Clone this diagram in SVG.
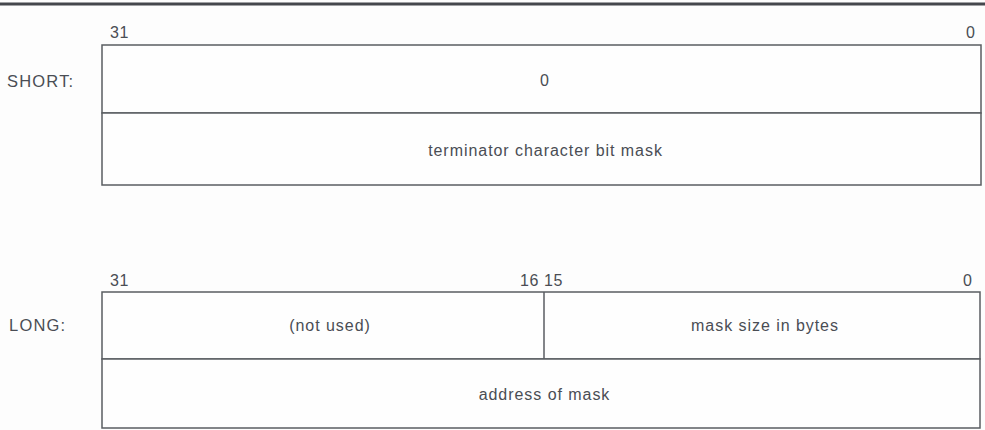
<svg xmlns="http://www.w3.org/2000/svg" width="985" height="430" viewBox="0 0 985 430">
<style>
  .bg { fill: #fdfdfd; }
  .rule { stroke: #45474d; stroke-width: 3; }
  .box { fill: #fefefe; stroke: #5a5d62; stroke-width: 1.5; }
  .div { stroke: #5a5d62; stroke-width: 1.5; }
  text { font-family: "Liberation Sans", Arial, sans-serif; fill: #4a4d54; }
  .lbl { font-size: 16.5px; letter-spacing: 1.2px; }
  .num { font-size: 16px; letter-spacing: 0.6px; }
  .fld { font-size: 16px; letter-spacing: 0.95px; text-anchor: middle; }
</style>
<rect class="bg" x="0" y="0" width="985" height="430"/>
<line class="rule" x1="0" y1="4" x2="985" y2="4"/>

<g id="short">
  <text class="lbl" x="7" y="87">SHORT:</text>
  <text class="num" x="110" y="38">31</text>
  <text class="num" x="966" y="38">0</text>
  <g id="short-word0">
    <rect class="box" x="102" y="45" width="879" height="68"/>
    <text class="fld" x="545" y="86">0</text>
  </g>
  <g id="short-word1">
    <rect class="box" x="102" y="113" width="879" height="72"/>
    <text class="fld" x="545.5" y="156">terminator character bit mask</text>
  </g>
</g>

<g id="long">
  <text class="lbl" x="9" y="331">LONG:</text>
  <text class="num" x="110" y="286">31</text>
  <text class="num" x="520" y="286">16 15</text>
  <text class="num" x="963" y="286">0</text>
  <g id="long-word0">
    <rect class="box" x="102" y="292" width="878" height="67"/>
    <line class="div" x1="544" y1="292" x2="544" y2="359"/>
    <text class="fld" x="330" y="331">(not used)</text>
    <text class="fld" x="765" y="331">mask size in bytes</text>
  </g>
  <g id="long-word1">
    <rect class="box" x="102" y="359" width="878" height="69"/>
    <text class="fld" x="544.5" y="400">address of mask</text>
  </g>
</g>
</svg>
